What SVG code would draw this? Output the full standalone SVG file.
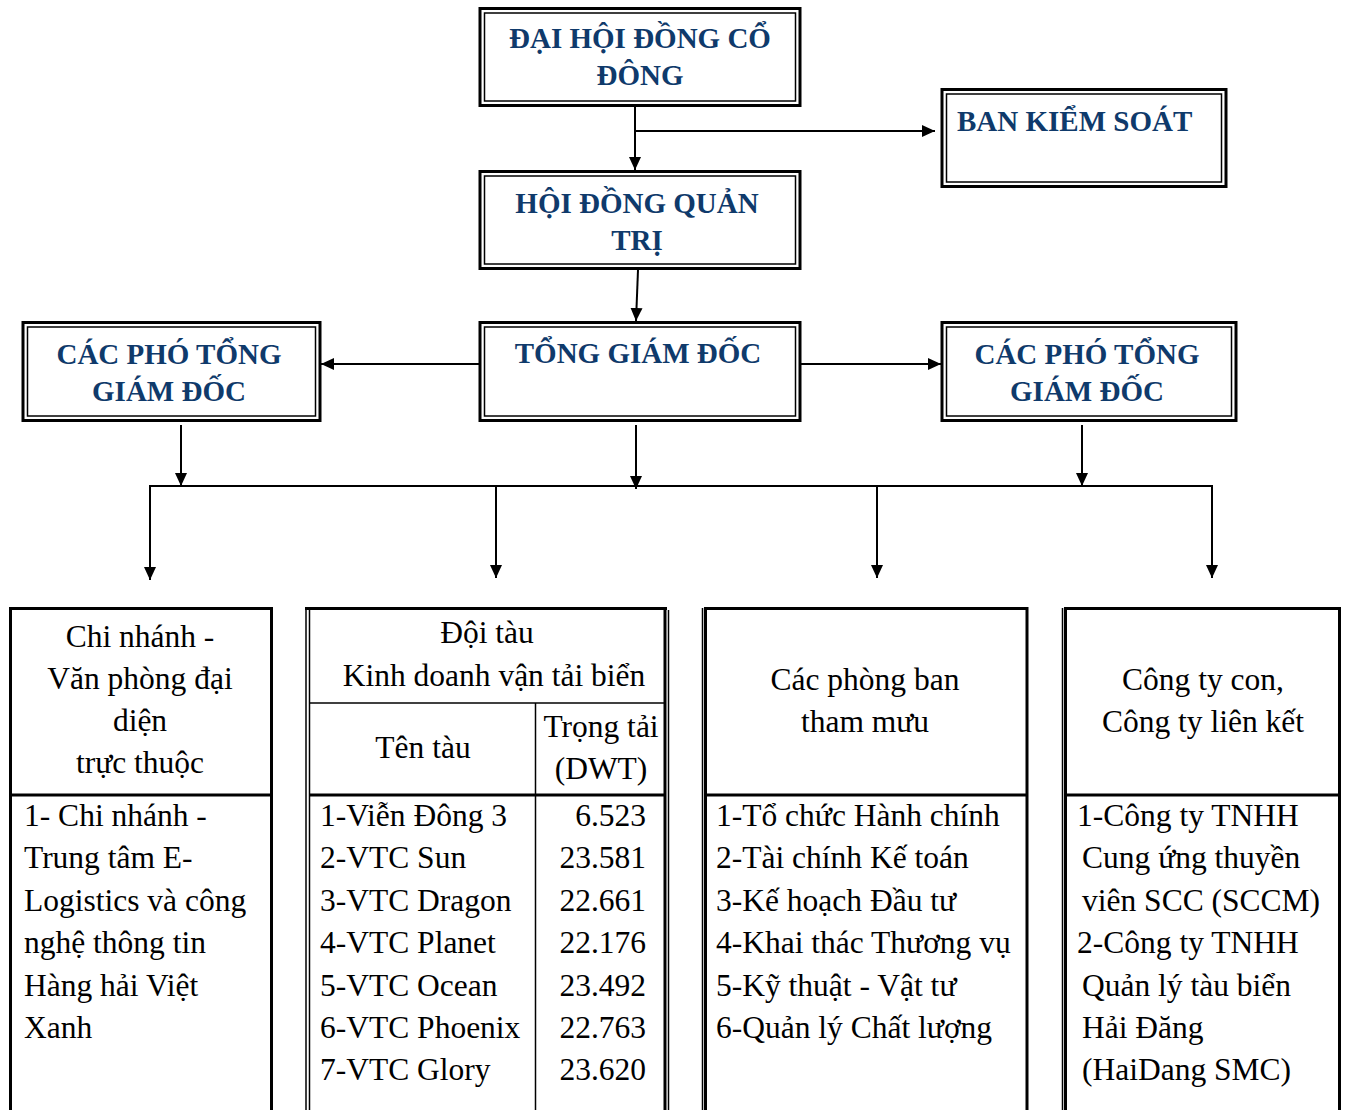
<svg xmlns="http://www.w3.org/2000/svg" width="1348" height="1110" viewBox="0 0 1348 1110">
<style>
.ob{fill:#fff;stroke:#000;stroke-width:3}
.ib{fill:none;stroke:#000;stroke-width:1.5}
.h{font-family:"Liberation Serif","Times New Roman",serif;font-weight:bold;font-size:29px;fill:#0f3a6b}
.t{font-family:"Liberation Serif","Times New Roman",serif;font-size:31.5px;fill:#000}
.c{text-anchor:middle}
.e{text-anchor:end}
.ln{stroke:#000;stroke-width:2;fill:none}
.tk{stroke:#000;stroke-width:3;fill:none}
.tn{stroke:#000;stroke-width:1.5;fill:none}
</style>
<defs>
<marker id="ar" markerUnits="userSpaceOnUse" markerWidth="14" markerHeight="14" viewBox="0 0 14 14" refX="13" refY="7" orient="auto">
<path d="M0,1 L13,7 L0,13 Z" fill="#000"/>
</marker>
</defs>
<rect width="1348" height="1110" fill="#fff"/>

<g id="connectors">
<line class="ln" x1="635" y1="106" x2="635" y2="170" marker-end="url(#ar)"/>
<line class="ln" x1="635" y1="131" x2="935" y2="131" marker-end="url(#ar)"/>
<line class="ln" x1="638" y1="270" x2="636" y2="321" marker-end="url(#ar)"/>
<line class="ln" x1="479" y1="364" x2="321" y2="364" marker-end="url(#ar)"/>
<line class="ln" x1="801" y1="364" x2="941" y2="364" marker-end="url(#ar)"/>
<line class="ln" x1="181" y1="425" x2="181" y2="486" marker-end="url(#ar)"/>
<line class="ln" x1="636" y1="425" x2="636" y2="489" marker-end="url(#ar)"/>
<line class="ln" x1="1082" y1="425" x2="1082" y2="486" marker-end="url(#ar)"/>
<polyline class="ln" points="150,580 150,486 1212,486 1212,578"/>
<line class="ln" x1="150" y1="486" x2="150" y2="580" marker-end="url(#ar)"/>
<line class="ln" x1="496" y1="486" x2="496" y2="578" marker-end="url(#ar)"/>
<line class="ln" x1="877" y1="486" x2="877" y2="578" marker-end="url(#ar)"/>
<line class="ln" x1="1212" y1="486" x2="1212" y2="578" marker-end="url(#ar)"/>
</g>

<g id="dhdcd">
<rect class="ob" x="480" y="8.5" width="320" height="97"/>
<rect class="ib" x="484.5" y="13" width="311" height="88"/>
<text class="h c" x="640" y="48">ĐẠI HỘI ĐỒNG CỔ</text>
<text class="h c" x="640" y="85">ĐÔNG</text>
</g>

<g id="bks">
<rect class="ob" x="942" y="89.5" width="284" height="97"/>
<rect class="ib" x="946.5" y="94" width="275" height="88"/>
<text class="h" x="957" y="131">BAN KIỂM SOÁT</text>
</g>

<g id="hdqt">
<rect class="ob" x="480" y="171.5" width="320" height="97"/>
<rect class="ib" x="484.5" y="176" width="311" height="88"/>
<text class="h c" x="637" y="213">HỘI ĐỒNG QUẢN</text>
<text class="h c" x="637" y="250">TRỊ</text>
</g>

<g id="tgd">
<rect class="ob" x="480" y="322.5" width="320" height="98"/>
<rect class="ib" x="484.5" y="327" width="311" height="89"/>
<text class="h c" x="638" y="363">TỔNG GIÁM ĐỐC</text>
</g>

<g id="ptgd-left">
<rect class="ob" x="23" y="322.5" width="297" height="98"/>
<rect class="ib" x="27.5" y="327" width="288" height="89"/>
<text class="h c" x="169" y="364">CÁC PHÓ TỔNG</text>
<text class="h c" x="169" y="401">GIÁM ĐỐC</text>
</g>

<g id="ptgd-right">
<rect class="ob" x="942" y="322.5" width="294" height="98"/>
<rect class="ib" x="946.5" y="327" width="285" height="89"/>
<text class="h c" x="1087" y="364">CÁC PHÓ TỔNG</text>
<text class="h c" x="1087" y="401">GIÁM ĐỐC</text>
</g>

<g id="table-chinhanh">
<polyline class="tk" points="10.5,1112 10.5,608.5 271.5,608.5 271.5,1112"/>
<line class="tk" x1="10" y1="795" x2="272" y2="795"/>
<text class="t c" x="140" y="647">Chi nhánh -</text>
<text class="t c" x="140" y="689">Văn phòng đại</text>
<text class="t c" x="140" y="731">diện</text>
<text class="t c" x="140" y="773">trực thuộc</text>
<text class="t" x="24" y="826">1- Chi nhánh -</text>
<text class="t" x="24" y="868">Trung tâm E-</text>
<text class="t" x="24" y="911">Logistics và công</text>
<text class="t" x="24" y="953">nghệ thông tin</text>
<text class="t" x="24" y="996">Hàng hải Việt</text>
<text class="t" x="24" y="1038">Xanh</text>
</g>

<g id="table-doitau">
<line class="tn" x1="306" y1="608" x2="306" y2="1112"/>
<line class="tn" x1="309.5" y1="608" x2="309.5" y2="1112"/>
<line class="tk" x1="305" y1="608.5" x2="667" y2="608.5"/>
<line class="tk" x1="665" y1="607" x2="665" y2="1112"/>
<line class="tn" x1="668.5" y1="610" x2="668.5" y2="1112"/>
<line class="tn" x1="309" y1="703" x2="665" y2="703"/>
<line class="tk" x1="309" y1="795" x2="665" y2="795"/>
<line class="tn" x1="535.5" y1="703" x2="535.5" y2="1112"/>
<text class="t c" x="487" y="643">Đội tàu</text>
<text class="t c" x="494" y="686">Kinh doanh vận tải biển</text>
<text class="t c" x="423" y="758">Tên tàu</text>
<text class="t c" x="601" y="737">Trọng tải</text>
<text class="t c" x="601" y="779">(DWT)</text>
<text class="t" x="320" y="826">1-Viễn Đông 3</text>
<text class="t" x="320" y="868">2-VTC Sun</text>
<text class="t" x="320" y="911">3-VTC Dragon</text>
<text class="t" x="320" y="953">4-VTC Planet</text>
<text class="t" x="320" y="996">5-VTC Ocean</text>
<text class="t" x="320" y="1038">6-VTC Phoenix</text>
<text class="t" x="320" y="1080">7-VTC Glory</text>
<text class="t e" x="646" y="826">6.523</text>
<text class="t e" x="646" y="868">23.581</text>
<text class="t e" x="646" y="911">22.661</text>
<text class="t e" x="646" y="953">22.176</text>
<text class="t e" x="646" y="996">23.492</text>
<text class="t e" x="646" y="1038">22.763</text>
<text class="t e" x="646" y="1080">23.620</text>
</g>

<g id="table-phongban">
<line class="tn" x1="702.5" y1="608" x2="702.5" y2="1112"/>
<polyline class="tk" points="705.5,1112 705.5,608.5 1027,608.5 1027,1112"/>
<line class="tk" x1="705" y1="795" x2="1027" y2="795"/>
<text class="t c" x="865" y="690">Các phòng ban</text>
<text class="t c" x="865" y="732">tham mưu</text>
<text class="t" x="716" y="826">1-Tổ chức Hành chính</text>
<text class="t" x="716" y="868">2-Tài chính Kế toán</text>
<text class="t" x="716" y="911">3-Kế hoạch Đầu tư</text>
<text class="t" x="716" y="953">4-Khai thác Thương vụ</text>
<text class="t" x="716" y="996">5-Kỹ thuật - Vật tư</text>
<text class="t" x="716" y="1038">6-Quản lý Chất lượng</text>
</g>

<g id="table-congty">
<line class="tn" x1="1062.5" y1="608" x2="1062.5" y2="1112"/>
<polyline class="tk" points="1065.5,1112 1065.5,608.5 1339.5,608.5 1339.5,1112"/>
<line class="tk" x1="1065" y1="795" x2="1340" y2="795"/>
<text class="t c" x="1203" y="690">Công ty con,</text>
<text class="t c" x="1203" y="732">Công ty liên kết</text>
<text class="t" x="1077" y="826">1-Công ty TNHH</text>
<text class="t" x="1082" y="868">Cung ứng thuyền</text>
<text class="t" x="1082" y="911">viên SCC (SCCM)</text>
<text class="t" x="1077" y="953">2-Công ty TNHH</text>
<text class="t" x="1082" y="996">Quản lý tàu biển</text>
<text class="t" x="1082" y="1038">Hải Đăng</text>
<text class="t" x="1082" y="1080">(HaiDang SMC)</text>
</g>
</svg>
